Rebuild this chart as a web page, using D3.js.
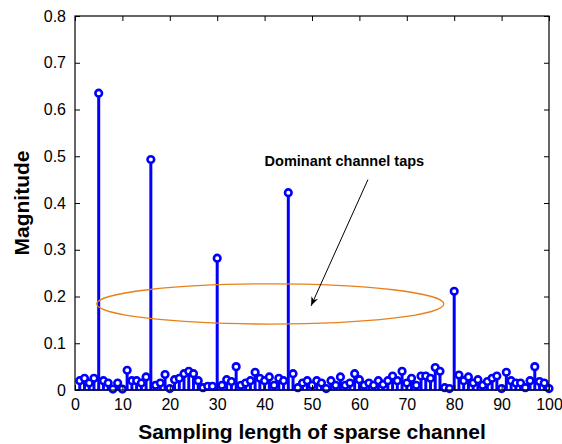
<!DOCTYPE html>
<html>
<head>
<meta charset="utf-8">
<script src="https://cdn.jsdelivr.net/npm/d3@7"></script>
<style>
  body { margin: 0; background: #fff; }
  text { font-family: "Liberation Sans", Arial, sans-serif; }
</style>
</head>
<body>
<svg id="chart" width="562" height="444"></svg>
<script>
// tap magnitudes for indices 1..100
const taps = [
  0.020, 0.025, 0.015, 0.025, 0.635, 0.020, 0.015, 0.002, 0.015, 0.002,
  0.042, 0.020, 0.020, 0.015, 0.028, 0.493, 0.010, 0.015, 0.033, 0.003,
  0.022, 0.025, 0.035, 0.040, 0.035, 0.020, 0.005, 0.008, 0.008, 0.282,
  0.010, 0.022, 0.018, 0.050, 0.010, 0.015, 0.020, 0.038, 0.025, 0.020,
  0.028, 0.010, 0.025, 0.020, 0.422, 0.035, 0.005, 0.015, 0.020, 0.010,
  0.020, 0.015, 0.003, 0.020, 0.010, 0.028, 0.010, 0.015, 0.035, 0.022,
  0.010, 0.015, 0.010, 0.020, 0.012, 0.020, 0.030, 0.020, 0.040, 0.015,
  0.025, 0.010, 0.030, 0.030, 0.025, 0.048, 0.040, 0.005, 0.003, 0.211,
  0.032, 0.020, 0.028, 0.015, 0.022, 0.010, 0.018, 0.025, 0.030, 0.003,
  0.038, 0.020, 0.015, 0.015, 0.005, 0.020, 0.050, 0.018, 0.015, 0.003
];
const xTicks = [0, 10, 20, 30, 40, 50, 60, 70, 80, 90, 100];
const yTicks = [0, 0.1, 0.2, 0.3, 0.4, 0.5, 0.6, 0.7, 0.8];
// ellipse around dominant taps, data units
const ellipse = { cx: 41.2, cy: 0.184, rx: 36.6, ry: 0.043 };
const note = { text: "Dominant channel taps", x: 40, y: 0.48, ax: 61.8, ay: 0.45, bx: 49.8, by: 0.18 };

const svg = d3.select("#chart");
const margin = { top: 16, right: 13, bottom: 54, left: 75 };
const width = 562 - margin.left - margin.right;
const height = 444 - margin.top - margin.bottom;

const x = d3.scaleLinear().domain([0, 100]).range([0, width]);
const y = d3.scaleLinear().domain([0, 0.8]).range([height, 0]);

const g = svg.append("g").attr("transform", `translate(${margin.left},${margin.top})`);

svg.append("defs").append("marker")
  .attr("id", "arrow")
  .attr("viewBox", "0 0 10 10")
  .attr("refX", 10).attr("refY", 5)
  .attr("markerWidth", 9).attr("markerHeight", 9)
  .attr("orient", "auto")
  .append("path").attr("d", "M0,1 L10,5 L0,9 L3,5 Z").attr("fill", "#000");

// stems
const blue = "#0000ff";
g.selectAll(".stem").data(taps).join("line")
  .attr("x1", (d, i) => x(i + 1)).attr("x2", (d, i) => x(i + 1))
  .attr("y1", y(0)).attr("y2", d => y(d))
  .attr("stroke", blue).attr("stroke-width", 3);

g.append("line").attr("x1", 0).attr("x2", width).attr("y1", y(0)).attr("y2", y(0))
  .attr("stroke", blue).attr("stroke-width", 1.5);

g.selectAll(".head").data(taps).join("circle")
  .attr("cx", (d, i) => x(i + 1)).attr("cy", d => y(d))
  .attr("r", 3.3)
  .attr("fill", "#fff").attr("stroke", blue).attr("stroke-width", 2.6);

// axes (ticks inside, MATLAB style)
const axB = g.append("g").attr("transform", `translate(0,${height})`)
  .call(d3.axisBottom(x).tickValues(xTicks).tickSizeInner(-5).tickSizeOuter(0).tickPadding(9));
const axL = g.append("g")
  .call(d3.axisLeft(y).tickValues(yTicks).tickSizeInner(-5).tickSizeOuter(0).tickPadding(9).tickFormat(d => d === 0 ? "0" : d3.format(".1f")(d)));
const axT = g.append("g")
  .call(d3.axisTop(x).tickValues(xTicks).tickSizeInner(-5).tickSizeOuter(0).tickFormat(""));
const axR = g.append("g").attr("transform", `translate(${width},0)`)
  .call(d3.axisRight(y).tickValues(yTicks).tickSizeInner(-5).tickSizeOuter(0).tickFormat(""));
[axB, axL, axT, axR].forEach(a => {
  a.select(".domain").remove();
  a.selectAll("line").attr("stroke", "#000");
  a.selectAll("text").attr("font-size", 16).attr("fill", "#000")
    .style("font-family", "'Liberation Sans', Arial, sans-serif");
});

g.append("rect").attr("width", width).attr("height", height)
  .attr("fill", "none").attr("stroke", "#000").attr("stroke-width", 1.2);

// ellipse and annotation
g.append("ellipse")
  .attr("cx", x(ellipse.cx)).attr("cy", y(ellipse.cy))
  .attr("rx", x(ellipse.rx) - x(0)).attr("ry", y(0) - y(ellipse.ry))
  .attr("fill", "none").attr("stroke", "#e8801a").attr("stroke-width", 1.3);

g.append("text").attr("x", x(note.x)).attr("y", y(note.y))
  .attr("font-size", 14.5).attr("font-weight", "bold").text(note.text);

g.append("line")
  .attr("x1", x(note.ax)).attr("y1", y(note.ay))
  .attr("x2", x(note.bx)).attr("y2", y(note.by))
  .attr("stroke", "#000").attr("stroke-width", 1)
  .attr("marker-end", "url(#arrow)");

// axis titles
svg.append("text")
  .attr("x", margin.left + width / 2).attr("y", 439)
  .attr("text-anchor", "middle").attr("font-size", 21).attr("font-weight", "bold")
  .text("Sampling length of sparse channel");
svg.append("text")
  .attr("transform", `translate(29,${margin.top + height / 2}) rotate(-90)`)
  .attr("text-anchor", "middle").attr("font-size", 21).attr("font-weight", "bold")
  .text("Magnitude");
</script>
</body>
</html>
